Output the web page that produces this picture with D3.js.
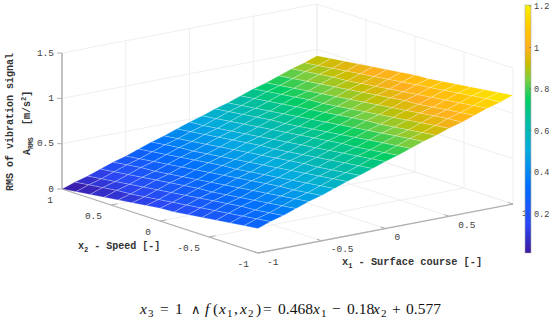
<!DOCTYPE html>
<html>
<head>
<meta charset="utf-8">
<script src="https://cdn.jsdelivr.net/npm/d3@7"></script>
<style>
  html, body { margin: 0; padding: 0; background: #fff; }
  text { font-family: "Liberation Mono", monospace; fill: #404040; }
  .lbl { font-weight: bold; fill: #333; }
  text.eq { font-family: "Liberation Serif", serif; fill: #111; }
  text.eq.sym { font-family: "DejaVu Sans", sans-serif; }
</style>
</head>
<body>
<div id="chart"></div>
<script>
var widthT = 550, heightT = 322;

var x1Grid = [-1, -0.9, -0.8, -0.7, -0.6, -0.5, -0.4, -0.3, -0.2, -0.1, 0, 0.1, 0.2, 0.3, 0.4, 0.5, 0.6, 0.7, 0.8, 0.9, 1];
var x2Grid = [1, 0.857, 0.714, 0.571, 0.429, 0.286, 0.143, 0, -0.143, -0.286, -0.429, -0.571, -0.714, -0.857, -1];

// surface height, one row per x2Grid value
var zRows = [
  [0,.05,.09,.14,.19,.23,.28,.33,.37,.42,.47,.51,.56,.60,.65,.70,.74,.79,.84,.88,.93],
  [.02,.07,.11,.16,.21,.25,.30,.35,.39,.44,.48,.53,.58,.62,.67,.72,.76,.81,.86,.90,.95],
  [.04,.09,.13,.18,.23,.27,.32,.37,.41,.46,.50,.55,.60,.64,.69,.74,.78,.83,.88,.92,.97],
  [.06,.11,.15,.20,.24,.29,.34,.38,.43,.48,.52,.57,.62,.66,.71,.76,.80,.85,.90,.94,.99],
  [.08,.12,.17,.22,.26,.31,.36,.40,.45,.50,.54,.59,.64,.68,.73,.78,.82,.87,.91,.96,1.01],
  [.10,.14,.19,.24,.28,.33,.38,.42,.47,.52,.56,.61,.65,.70,.75,.79,.84,.89,.93,.98,1.03],
  [.12,.16,.21,.26,.30,.35,.40,.44,.49,.54,.58,.63,.67,.72,.77,.81,.86,.91,.95,1.00,1.05],
  [.14,.18,.23,.28,.32,.37,.41,.46,.51,.55,.60,.65,.69,.74,.79,.83,.88,.93,.97,1.02,1.07],
  [.15,.20,.25,.29,.34,.39,.43,.48,.53,.57,.62,.67,.71,.76,.81,.85,.90,.95,.99,1.04,1.08],
  [.17,.22,.27,.31,.36,.41,.45,.50,.55,.59,.64,.69,.73,.78,.83,.87,.92,.97,1.01,1.06,1.10],
  [.19,.24,.29,.33,.38,.43,.47,.52,.57,.61,.66,.71,.75,.80,.84,.89,.94,.98,1.03,1.08,1.12],
  [.21,.26,.31,.35,.40,.45,.49,.54,.58,.63,.68,.72,.77,.82,.86,.91,.96,1.00,1.05,1.10,1.14],
  [.23,.28,.32,.37,.42,.46,.51,.56,.60,.65,.70,.74,.79,.84,.88,.93,.98,1.02,1.07,1.12,1.16],
  [.25,.30,.34,.39,.44,.48,.53,.58,.62,.67,.72,.76,.81,.86,.90,.95,1.00,1.04,1.09,1.14,1.18],
  [.27,.32,.36,.41,.46,.50,.55,.60,.64,.69,.74,.78,.83,.88,.92,.97,1.01,1.06,1.11,1.15,1.20]
];

var x1Ticks = [-1, -0.5, 0, 0.5, 1];
var x2Ticks = [1, 0.5, 0, -0.5, -1];
var zTicks = [0, 0.5, 1, 1.5];
var barTicks = [0.2, 0.4, 0.6, 0.8, 1, 1.2];

var colorVals = [0.01, 0.15, 0.33, 0.5, 0.65, 0.75, 0.85, 0.92, 1.0, 1.1, 1.205];
var colorHex = ["#3e169f", "#2a48f5", "#006eff", "#00aae0", "#00bea0", "#00cd64", "#82cd3c", "#c8be00", "#ffaf1e", "#ffc800", "#faf000"];

var svg = d3.select("#chart").append("svg")
    .attr("width", widthT)
    .attr("height", heightT);

// oblique box: each data axis adds its own screen offset
var x1ToX = d3.scaleLinear().domain([-1, 1]).range([-127.5, 127.5]),
    x1ToY = d3.scaleLinear().domain([-1, 1]).range([24.5, -24.5]),
    x2ToX = d3.scaleLinear().domain([-1, 1]).range([98, -98]),
    x2ToY = d3.scaleLinear().domain([-1, 1]).range([32, -32]),
    zToY = d3.scaleLinear().domain([0, 1.5]).range([0, -136]);

function px(a, b) { return 287.5 + x1ToX(a) + x2ToX(b); }
function py(a, b, z) { return 196.5 + x1ToY(a) + x2ToY(b) + zToY(z); }

var color = d3.scaleLinear().domain(colorVals).range(colorHex);

function seg(g, a0, b0, z0, a1, b1, z1, stroke, w) {
  g.append("line")
    .attr("x1", px(a0, b0)).attr("y1", py(a0, b0, z0))
    .attr("x2", px(a1, b1)).attr("y2", py(a1, b1, z1))
    .attr("stroke", stroke).attr("stroke-width", w);
}

// back walls and floor grid
var grid = svg.append("g");
var gridCol = "#efefef";
x1Ticks.forEach(function(t) {
  seg(grid, t, -1, 0, t, 1, 0, gridCol, 1);
  seg(grid, t, 1, 0, t, 1, 1.5, gridCol, 1);
});
x2Ticks.forEach(function(t) {
  seg(grid, -1, t, 0, 1, t, 0, gridCol, 1);
  seg(grid, 1, t, 0, 1, t, 1.5, gridCol, 1);
});
zTicks.forEach(function(t) {
  seg(grid, -1, 1, t, 1, 1, t, gridCol, 1);
  seg(grid, 1, 1, t, 1, -1, t, gridCol, 1);
});

// axis lines
var ax = svg.append("g");
var axCol = "#b0b0b0";
seg(ax, -1, 1, 0, -1, -1, 0, axCol, 1.3);
seg(ax, -1, -1, 0, 1, -1, 0, axCol, 1.3);
seg(ax, -1, 1, 0, -1, 1, 1.5, axCol, 1.5);

zTicks.forEach(function(t) {
  ax.append("line")
    .attr("x1", px(-1, 1) - 5).attr("x2", px(-1, 1))
    .attr("y1", py(-1, 1, t)).attr("y2", py(-1, 1, t))
    .attr("stroke", axCol);
  ax.append("text")
    .attr("x", px(-1, 1) - 8).attr("y", py(-1, 1, t) + 2.5)
    .attr("text-anchor", "end").attr("font-size", 9.5)
    .text(t);
});
x2Ticks.forEach(function(t) {
  seg(ax, -1, t, 0, -0.95, t, 0, axCol, 1);
  ax.append("text")
    .attr("x", px(-1, t) - 9).attr("y", py(-1, t, 0) + 13.5)
    .attr("text-anchor", "end").attr("font-size", 9.5)
    .text(t);
});
x1Ticks.forEach(function(t) {
  seg(ax, t, -1, 0, t, -0.95, 0, axCol, 1);
  ax.append("text")
    .attr("x", px(t, -1) + 9).attr("y", py(t, -1, 0) + 11.5)
    .attr("font-size", 9.5)
    .text(t);
});

// surface
var surf = svg.append("g");
var cells = [];
d3.range(x2Grid.length - 1).forEach(function(j) {
  d3.range(x1Grid.length - 1).forEach(function(i) {
    cells.push({i: i, j: j});
  });
});
surf.selectAll("path")
  .data(cells)
  .enter().append("path")
    .attr("d", function(c) {
      var pts = [[c.i, c.j], [c.i + 1, c.j], [c.i + 1, c.j + 1], [c.i, c.j + 1]];
      return "M" + pts.map(function(p) {
        var a = x1Grid[p[0]], b = x2Grid[p[1]];
        return px(a, b) + "," + py(a, b, zRows[p[1]][p[0]]);
      }).join("L") + "Z";
    })
    .attr("fill", function(c) {
      var m = (zRows[c.j][c.i] + zRows[c.j][c.i + 1] + zRows[c.j + 1][c.i] + zRows[c.j + 1][c.i + 1]) / 4;
      return color(m);
    })
    .attr("stroke", "#fff")
    .attr("stroke-opacity", 0.35)
    .attr("stroke-width", 0.7);

// colorbar
var barY = d3.scaleLinear().domain([0.01, 1.205]).range([253, 5]);
var defs = svg.append("defs");
var grad = defs.append("linearGradient")
    .attr("id", "bar").attr("x1", 0).attr("x2", 0).attr("y1", 1).attr("y2", 0);
grad.selectAll("stop").data(colorVals).enter().append("stop")
    .attr("offset", function(d) { return (d - 0.01) / (1.205 - 0.01); })
    .attr("stop-color", function(d) { return color(d); });
svg.append("rect")
    .attr("x", 525).attr("y", barY(1.205))
    .attr("width", 6).attr("height", barY(0.01) - barY(1.205))
    .attr("fill", "url(#bar)")
    .attr("stroke", "#aaa").attr("stroke-width", 0.6);
barTicks.forEach(function(t) {
  svg.append("line")
    .attr("x1", 529).attr("x2", 531)
    .attr("y1", barY(t)).attr("y2", barY(t))
    .attr("stroke", "#666").attr("stroke-width", 0.6);
  svg.append("text")
    .attr("x", 534).attr("y", barY(t) + 3)
    .attr("font-size", 8.5)
    .text(t);
});

// axis titles
var t2 = svg.append("text").attr("class", "lbl").attr("x", 78).attr("y", 249).attr("font-size", 10);
t2.append("tspan").text("x");
t2.append("tspan").attr("dy", 3).attr("font-size", 7).text("2");
t2.append("tspan").attr("dy", -3).text(" - Speed [-]");

var t1 = svg.append("text").attr("class", "lbl").attr("x", 342).attr("y", 265).attr("font-size", 10.3);
t1.append("tspan").text("x");
t1.append("tspan").attr("dy", 3).attr("font-size", 7).text("1");
t1.append("tspan").attr("dy", -3).text(" - Surface course [-]");

svg.append("text").attr("class", "lbl")
    .attr("transform", "translate(13,191) rotate(-90)")
    .attr("font-size", 10)
    .text("RMS of vibration signal");

var t3 = svg.append("text").attr("class", "lbl")
    .attr("transform", "translate(30,155) rotate(-90)")
    .attr("font-size", 10);
t3.append("tspan").text("A");
t3.append("tspan").attr("dy", 3).attr("font-size", 6.5).text("RMS");

var t4 = svg.append("text").attr("class", "lbl")
    .attr("transform", "translate(30,125) rotate(-90)")
    .attr("font-size", 10);
t4.append("tspan").text("[m/s");
t4.append("tspan").attr("dy", -4).attr("font-size", 7).text("2");
t4.append("tspan").attr("dy", 4).text("]");

// equation below the plot, pieces placed one by one to get the math spacing
var eqParts = [
  ["x", 140, "i"], ["3", 148, "s"], ["=", 160, ""], ["1", 175, ""], ["\u2227", 191, "m"],
  ["f", 205, "i"], ["(", 213, ""], ["x", 219, "i"], ["1", 227, "s"], [",", 234, ""],
  ["x", 240, "i"], ["2", 248, "s"], [")", 256, ""], ["=", 263, ""], ["0.468", 278, ""],
  ["x", 313, "i"], ["1", 321, "s"], ["\u2212", 332, ""], ["0.18", 347, ""], ["x", 373, "i"],
  ["2", 381, "s"], ["+", 392, ""], ["0.577", 406, ""]
];
eqParts.forEach(function(p) {
  svg.append("text").attr("class", p[2] === "m" ? "eq sym" : "eq")
    .attr("x", p[1])
    .attr("y", p[2] === "s" ? 317 : 314)
    .attr("font-size", p[2] === "s" ? 11 : (p[2] === "m" ? 13 : 15.5))
    .attr("font-style", p[2] === "i" ? "italic" : "normal")
    .text(p[0]);
});
</script>
</body>
</html>
